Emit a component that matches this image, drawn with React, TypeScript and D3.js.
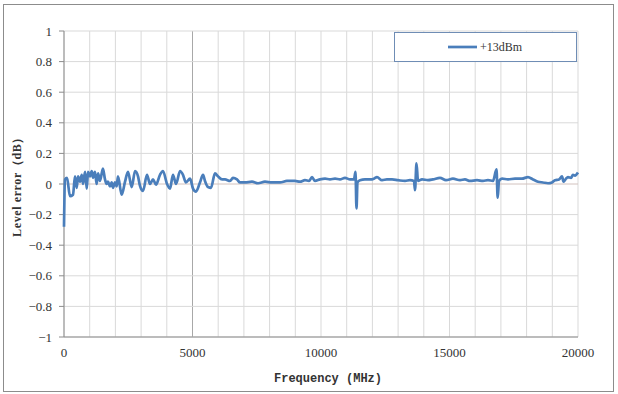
import React from 'react';
import * as d3 from 'd3';

// frequency (MHz) and level error (dB)
const freqs = [
  0, 39, 117, 233, 350, 428, 495, 545, 623, 690, 740, 820, 885, 935, 1010, 1080, 1130, 1205, 1270, 1325,
  1400, 1515, 1595, 1660, 1710, 1790, 1855, 1905, 1985, 2050, 2100, 2245, 2375, 2490, 2635, 2765, 2880,
  2955, 3075, 3230, 3345, 3465, 3580, 3735, 3850, 4010, 4125, 4240, 4360, 4515, 4630, 4745, 4905, 5020,
  5135, 5290, 5410, 5485, 5605, 5720, 5875, 5990, 6150, 6265, 6460, 6575, 6730, 6850, 7043, 7315, 7549,
  7821, 8093, 8405, 8677, 8988, 9183, 9377, 9533, 9650, 9767, 9961, 10156, 10350, 10545, 10739, 10934,
  11128, 11284, 11342, 11381, 11420, 11518, 11712, 11907, 12062, 12179, 12374, 12568, 12763, 12996,
  13269, 13463, 13619, 13658, 13716, 13774, 13930, 14163, 14358, 14630, 14864, 15136, 15409, 15603,
  15798, 16070, 16304, 16498, 16693, 16829, 16875, 16926, 17043, 17276, 17549, 17821, 18054, 18249,
  18444, 18638, 18833, 18988, 19105, 19261, 19377, 19436, 19533, 19611, 19728, 19805, 19883, 20000
];
const levels = [
  -0.28, 0.03, 0.04, -0.08, -0.07, 0.05, -0.025, 0.05, 0.015, 0.06, 0.0, 0.08, -0.03, 0.08, 0.05, 0.085,
  0.04, 0.08, 0.0, 0.07, 0.02, 0.1, 0.03, 0.0, 0.015, -0.015, 0.01, -0.025, 0.01, -0.015, 0.05, -0.07,
  0.015, 0.08, -0.02, 0.085, 0.05, -0.01, -0.045, 0.06, 0.0, 0.03, -0.005, 0.06, 0.085, 0.0, -0.03, 0.06,
  0.0, 0.085, 0.06, 0.01, 0.035, -0.03, -0.05, 0.01, 0.06, 0.02, -0.02, -0.025, 0.07, 0.05, 0.03, 0.03,
  0.02, 0.04, 0.03, 0.01, 0.01, 0.015, 0.005, 0.015, 0.01, 0.01, 0.02, 0.02, 0.015, 0.025, 0.02, 0.045,
  0.02, 0.03, 0.035, 0.03, 0.035, 0.03, 0.04, 0.03, 0.03, 0.08, -0.16, 0.01, 0.025, 0.03, 0.03, 0.035,
  0.045, 0.025, 0.03, 0.03, 0.025, 0.02, 0.025, 0.02, -0.04, 0.135, 0.02, 0.03, 0.025, 0.03, 0.04, 0.025,
  0.035, 0.025, 0.03, 0.02, 0.025, 0.02, 0.025, 0.02, 0.095, -0.09, 0.02, 0.035, 0.03, 0.035, 0.035,
  0.045, 0.03, 0.015, 0.01, 0.005, 0.01, 0.025, 0.03, 0.05, 0.015, 0.035, 0.045, 0.04, 0.06, 0.055, 0.075
];
const xTicks = [0, 5000, 10000, 15000, 20000];
const yTicks = [1, 0.8, 0.6, 0.4, 0.2, 0, -0.2, -0.4, -0.6, -0.8, -1];
const seriesName = '+13dBm';

const W = 618;
const H = 394;
const left = 64, right = 578, top = 31, bottom = 337;
const blue = '#4a7ebb';

export default function App() {
  const x = d3.scaleLinear().domain([0, 20000]).range([left, right]);
  const y = d3.scaleLinear().domain([-1, 1]).range([bottom, top]);
  const pts = freqs.map((f, i) => [f, levels[i]] as [number, number]);
  const line = d3.line<[number, number]>()
    .x(d => x(d[0]))
    .y(d => y(d[1]))
    .curve(d3.curveMonotoneX);
  const vGrid = d3.range(0, 20001, 1000);
  const fmt = (v: number) => (v < 0 ? '\u2212' + Math.abs(v) : String(v));

  return (
    <svg width={W} height={H} style={{ position: 'absolute', left: 0, top: 0, background: '#fff' }}>
      <rect x={3.5} y={4.5} width={610} height={387} fill="#fff" stroke="#8c8c8c" />
      {vGrid.map(v => (
        <line key={'v' + v} x1={x(v)} x2={x(v)} y1={top} y2={bottom}
          stroke={v === 5000 ? '#a8a8a8' : '#d9d9d9'} strokeWidth={1} />
      ))}
      {yTicks.map(v => (
        <line key={'h' + v} x1={left} x2={right} y1={y(v)} y2={y(v)}
          stroke={v === 0 ? '#d2c2be' : '#d9d9d9'} strokeWidth={1} />
      ))}
      <line x1={left} x2={left} y1={top} y2={bottom} stroke="#8c8c8c" />
      <line x1={left} x2={right} y1={bottom} y2={bottom} stroke="#8c8c8c" />
      {yTicks.map(v => (
        <g key={'yt' + v}>
          <line x1={left - 5} x2={left} y1={y(v)} y2={y(v)} stroke="#8c8c8c" />
          <text x={52} y={y(v)} dy="0.35em" textAnchor="end"
            fontFamily="'Liberation Serif', serif" fontSize={13} fill="#333">{fmt(v)}</text>
        </g>
      ))}
      {xTicks.map(v => (
        <text key={'xt' + v} x={x(v)} y={352} dy="0.35em" textAnchor="middle"
          fontFamily="'Liberation Serif', serif" fontSize={13} fill="#333">{v}</text>
      ))}
      <path d={line(pts) || ''} fill="none" stroke={blue} strokeWidth={2.7} strokeLinejoin="round" />
      <text x={328} y={378} dy="0.35em" textAnchor="middle" fontFamily="'Liberation Mono', monospace"
        fontWeight="bold" fontSize={12} fill="#333">Frequency (MHz)</text>
      <text transform={`translate(17,${(top + bottom) / 2}) rotate(-90)`} dy="0.35em" textAnchor="middle"
        fontFamily="'Liberation Serif', serif" fontWeight="bold" fontSize={12} letterSpacing={0.6}
        fill="#333">Level error（dB）</text>
      <rect x={394.5} y={32.5} width={182} height={29} fill="#fff" stroke="#6f8db5" />
      <line x1={448} x2={477} y1={47} y2={47} stroke={blue} strokeWidth={2.7} />
      <text x={480} y={47} dy="0.35em" fontFamily="'Liberation Serif', serif" fontSize={12} fill="#333">{seriesName}</text>
    </svg>
  );
}
